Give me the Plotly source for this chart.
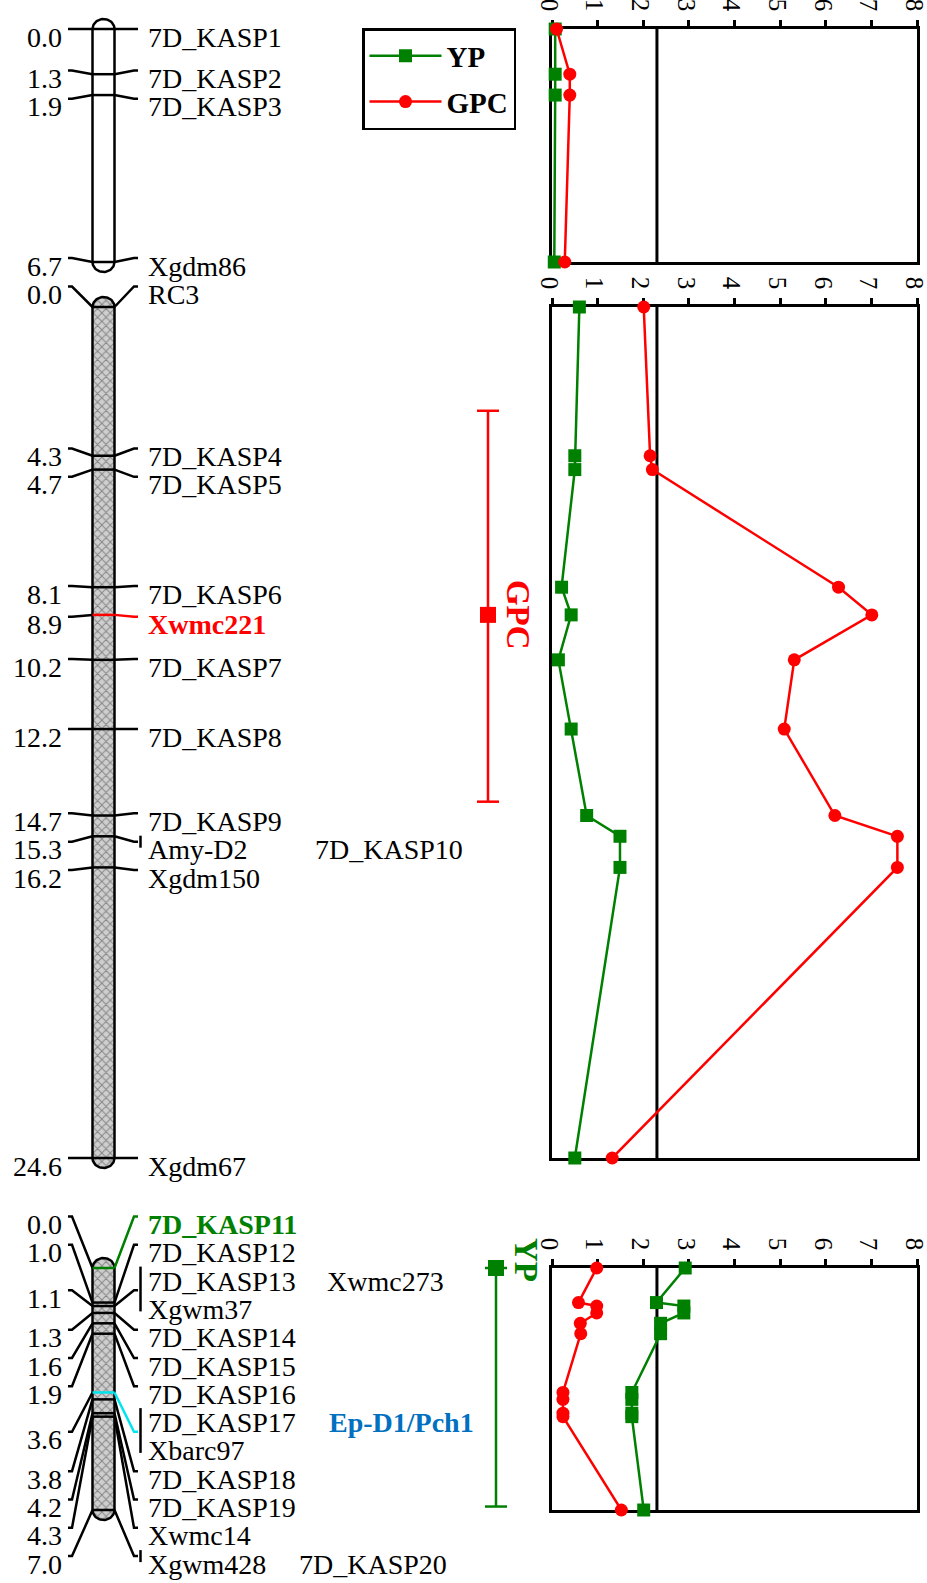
import numpy as np
import plotly.graph_objects as go

W, H = 927, 1583
FONT = "Liberation Serif"
GREEN, RED, CYAN, BLUE = "#008000", "#FF0000", "#00E5EE", "#0070C0"

# ---------------- data ----------------
# segment 1
c1_pos = [0.0, 1.3, 1.9, 6.7]
c1_labels = [[["7D_KASP1"]], [["7D_KASP2"]], [["7D_KASP3"]], [["Xgdm86"]]]
c1_yp = [0.07, 0.07, 0.07, 0.05]
c1_gpc = [0.10, 0.39, 0.39, 0.28]

# segment 2
c2_pos = [0.0, 4.3, 4.7, 8.1, 8.9, 10.2, 12.2, 14.7, 15.3, 16.2, 24.6]
c2_labels = [[["RC3"]], [["7D_KASP4"]], [["7D_KASP5"]], [["7D_KASP6"]], [["Xwmc221"]],
             [["7D_KASP7"]], [["7D_KASP8"]], [["7D_KASP9"]], [["Amy-D2", "7D_KASP10"]],
             [["Xgdm150"]], [["Xgdm67"]]]
c2_yp = [0.60, 0.50, 0.50, 0.21, 0.42, 0.14, 0.42, 0.76, 1.49, 1.49, 0.50]
c2_gpc = [2.01, 2.15, 2.20, 6.28, 7.01, 5.31, 5.09, 6.20, 7.57, 7.57, 1.32]

# segment 3
c3_pos = [0.0, 1.0, 1.1, 1.3, 1.6, 1.9, 3.6, 3.8, 4.2, 4.3, 7.0]
c3_labels = [[["7D_KASP11"]], [["7D_KASP12"]], [["7D_KASP13", "Xwmc273"], ["Xgwm37"]],
             [["7D_KASP14"]], [["7D_KASP15"]], [["7D_KASP16"]],
             [["7D_KASP17", "Ep-D1/Pch1"], ["Xbarc97"]], [["7D_KASP18"]], [["7D_KASP19"]],
             [["Xwmc14"]], [["Xgwm428", "7D_KASP20"]]]
c3_yp = [2.92, 2.29, 2.89, 2.89, 2.38, 2.38, 1.75, 1.75, 1.75, 1.75, 2.01]
c3_gpc = [0.98, 0.58, 0.98, 0.98, 0.62, 0.63, 0.24, 0.24, 0.24, 0.24, 1.52]

lod_threshold = 2.3
lod_ticks = [0, 1, 2, 3, 4, 5, 6, 7, 8]
# (segment index, start, peak, end, name)
qtl_gpc = (1, 3.0, 8.9, 14.3, "GPC")
qtl_yp = (2, 0.0, 0.0, 6.9, "YP")

marker_color = {"Xwmc221": RED, "7D_KASP11": GREEN, "7D_KASP17": CYAN}
text_color = {"Xwmc221": RED, "7D_KASP11": GREEN, "Ep-D1/Pch1": BLUE}

segments = [
    dict(pos=c1_pos, labels=c1_labels, yp=c1_yp, gpc=c1_gpc, fill="plain"),
    dict(pos=c2_pos, labels=c2_labels, yp=c2_yp, gpc=c2_gpc, fill="hatch"),
    dict(pos=c3_pos, labels=c3_labels, yp=c3_yp, gpc=c3_gpc, fill="hatch"),
]

# ---------------- layout geometry (pixels) ----------------
panel_px = [(29, 262), (307, 1158), (1268, 1510)]
pads = [(25, 30), (45, 40), (70, 70)]
row_px = [
    [29, 70.5, 98.8, 258],
    [286.5, 448.5, 476.8, 586, 616.7, 659, 729, 813.3, 841.7, 870, 1158],
    [1216.5 + 28.3 * i for i in range(13)],
]
second_x = {"Xwmc273": 325, "7D_KASP10": 313, "7D_KASP20": 297, "Ep-D1/Pch1": 327}
PX_L, PX_R = 552, 917
CH_L, CH_R = 92.5, 114.5
TXT = 28


def pdom(top, bot):
    return [1 - bot / H, 1 - top / H]


fig = go.Figure()
layout = dict(width=W, height=H, autosize=False,
              margin=dict(l=0, r=0, t=0, b=0, pad=0, autoexpand=False),
              paper_bgcolor="white", plot_bgcolor="rgba(0,0,0,0)", showlegend=True)

shapes, annos = [], []

for k, seg in enumerate(segments):
    n = k + 1
    sfx = "" if n == 1 else str(n)
    top, bot = panel_px[k]
    L = seg["pos"][-1]
    s = (bot - top) / L
    layout["xaxis" + sfx] = dict(
        domain=[PX_L / W, PX_R / W], range=[0, 8], side="top", anchor="y" + sfx,
        tickvals=lod_ticks, tickangle=90, ticks="outside", ticklen=6, tickwidth=2.5,
        tickcolor="black", showline=True, linewidth=3, linecolor="black", mirror=True,
        showgrid=False, zeroline=False, layer="below traces", ticklabeloverflow="allow",
        ticklabelshift=-3, automargin=False,
        tickfont=dict(family=FONT, size=25, color="black"))
    layout["yaxis" + sfx] = dict(
        domain=pdom(top, bot), range=[L, 0], anchor="x" + sfx, showline=True,
        linewidth=3, linecolor="black", mirror=True, showticklabels=False, ticks="",
        showgrid=False, zeroline=False, layer="below traces", automargin=False)
    pt, pb = pads[k]
    cy = "y" + str(3 + n)
    layout["yaxis" + str(3 + n)] = dict(
        domain=pdom(top - pt, bot + pb), range=[L + pb / s, -pt / s], anchor="x4",
        visible=False, automargin=False)

    # LOD curves
    fig.add_trace(go.Scatter(x=seg["yp"], y=seg["pos"], xaxis="x" + sfx, yaxis="y" + sfx,
                             mode="lines+markers", name="YP", showlegend=(n == 1),
                             legendgroup="YP", cliponaxis=False,
                             line=dict(color=GREEN, width=2.5),
                             marker=dict(symbol="square", size=13, color=GREEN)))
    fig.add_trace(go.Scatter(x=seg["gpc"], y=seg["pos"], xaxis="x" + sfx, yaxis="y" + sfx,
                             mode="lines+markers", name="GPC", showlegend=(n == 1),
                             legendgroup="GPC", cliponaxis=False,
                             line=dict(color=RED, width=2.5),
                             marker=dict(symbol="circle", size=13, color=RED)))
    shapes.append(dict(type="line", xref="x" + sfx, yref="y" + sfx + " domain",
                       x0=lod_threshold, x1=lod_threshold, y0=0, y1=1,
                       line=dict(color="black", width=3), layer="below"))

    # chromosome outline
    cxm, rx, ry = (CH_L + CH_R) / 2, (CH_R - CH_L) / 2, 10 / s
    t1 = np.linspace(np.pi, 0, 40)
    t2 = np.linspace(0, -np.pi, 40)
    xs = list(cxm + rx * np.cos(t1)) + list(cxm + rx * np.cos(t2))
    ys = list(0 - ry * np.sin(t1)) + list(L - ry * np.sin(t2))
    xs.append(xs[0]); ys.append(ys[0])
    tr = dict(x=xs, y=ys, xaxis="x4", yaxis=cy, mode="lines", fill="toself",
              line=dict(color="black", width=2.5), showlegend=False, hoverinfo="skip")
    if seg["fill"] == "plain":
        tr["fillcolor"] = "white"
    else:
        tr["fillcolor"] = "#cccccc"
        tr["fillpattern"] = dict(shape="x", bgcolor="#cfcfcf", fgcolor="#3a3a3a",
                                 size=6, solidity=0.3)
    fig.add_trace(go.Scatter(**tr))

    def cm(px):
        return (px - top) / s

    ri = 0
    for pos, rows in zip(seg["pos"], seg["labels"]):
        rws = row_px[k][ri:ri + len(rows)]
        ri += len(rows)
        nmark = sum(len(r) for r in rows)
        if len(rws) == 1:
            conn = rws[0]
        else:
            conn = (rws[0] + rws[-1]) / 2 + 3
        col = marker_color.get(rows[0][0], "black")
        shapes.append(dict(type="path", xref="x4", yref=cy, layer="above",
                           path=f"M 68,{cm(conn)} L 72,{cm(conn)} L {CH_L},{pos}",
                           line=dict(color="black", width=2.5)))
        shapes.append(dict(type="line", xref="x4", yref=cy, x0=CH_L, x1=CH_R, y0=pos, y1=pos,
                           line=dict(color=col, width=2.5), layer="above"))
        shapes.append(dict(type="path", xref="x4", yref=cy, layer="above",
                           path=f"M {CH_R},{pos} L 134,{cm(conn)} L 138,{cm(conn)}",
                           line=dict(color=col, width=2.5)))
        if nmark > 1:
            if len(rws) == 1:
                b0, b1 = rws[0] - 6, rws[0] + 6
            else:
                b0, b1 = rws[0] - 6.5, rws[-1] + 10
            shapes.append(dict(type="line", xref="x4", yref=cy, x0=140.5, x1=140.5,
                               y0=cm(b0), y1=cm(b1), line=dict(color="black", width=2.5)))
        annos.append(dict(x=64, xref="x4", y=1 - (conn + 8) / H, yref="paper",
                          xanchor="right", yanchor="middle", showarrow=False,
                          text=f"{pos:.1f}", font=dict(family=FONT, size=TXT, color="black")))
        for rp, row in zip(rws, rows):
            for j, name in enumerate(row):
                c = text_color.get(name, "black")
                annos.append(dict(x=146 if j == 0 else second_x[name], xref="x4",
                                  y=1 - (rp + 8) / H, yref="paper", xanchor="left",
                                  yanchor="middle", showarrow=False, text=name,
                                  font=dict(family=FONT, size=TXT, color=c,
                                            weight="bold" if c != "black" else "normal")))

layout["xaxis4"] = dict(domain=[0, 1], range=[0, W], anchor="y4", visible=False,
                        automargin=False)

# QTL intervals
for (k, a, pk, b, nm), col, xq, xl, up in [(qtl_gpc, RED, 488, 518, 0),
                                           (qtl_yp, GREEN, 496, 526, 8)]:
    cy = "y" + str(4 + k)
    shapes.append(dict(type="line", xref="x4", yref=cy, x0=xq, x1=xq, y0=a, y1=b,
                       line=dict(color=col, width=2.5)))
    for yy in (a, b):
        shapes.append(dict(type="line", xref="x4", yref=cy, x0=xq - 11, x1=xq + 11,
                           y0=yy, y1=yy, line=dict(color=col, width=2.5)))
    shapes.append(dict(type="rect", xref="x4", yref=cy, ysizemode="pixel", yanchor=pk,
                       y0=-8, y1=8, x0=xq - 8, x1=xq + 8, fillcolor=col,
                       line=dict(color=col, width=0)))
    annos.append(dict(x=xl, xref="x4", y=pk, yref=cy, yshift=up, text=nm, textangle=90,
                      showarrow=False, xanchor="center", yanchor="middle",
                      font=dict(family=FONT, size=33, color=col, weight="bold")))

layout["shapes"] = shapes
layout["annotations"] = annos
layout["legend"] = dict(x=362 / W, y=1 - 28 / H, xanchor="left", yanchor="top",
                        bordercolor="black", borderwidth=2.5, bgcolor="white",
                        font=dict(family=FONT, size=29, color="black", weight="bold"),
                        itemwidth=72, tracegroupgap=5)
fig.update_layout(**layout)
fig.write_html("out.html", config={"displayModeBar": False},
               post_script="document.body.style.margin='0px';"
                           "document.body.style.overflow='hidden';")
